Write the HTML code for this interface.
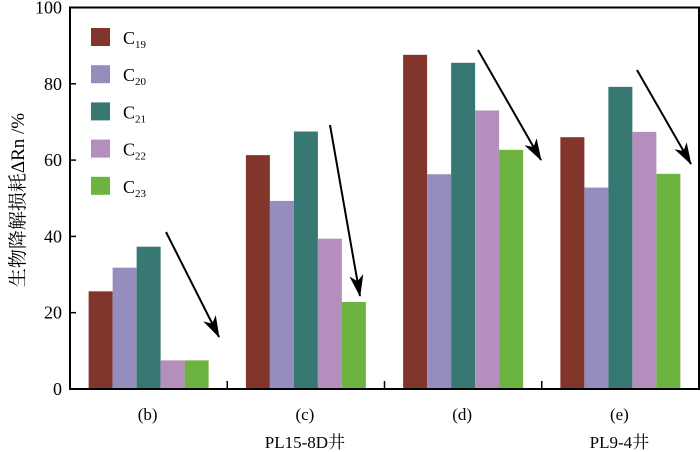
<!DOCTYPE html>
<html><head><meta charset="utf-8"><style>
body{margin:0;background:#fff}
svg{display:block;font-family:"Liberation Serif","Noto Serif CJK SC",serif}
</style></head><body>
<svg id="chart" width="700" height="452"></svg>
<script>
const categories=["(b)","(c)","(d)","(e)"];
const seriesNames=["19","20","21","22","23"];
const c19=[25.6,61.3,87.6,66.0];
const c20=[31.8,49.3,56.3,52.8];
const c21=[37.3,67.5,85.5,79.2];
const c22=[7.5,39.4,73.0,67.4];
const c23=[7.5,22.8,62.7,56.4];
const yTicks=[0,20,40,60,80,100];
const wellLabels=[{text:"PL15-8D井",cat:1},{text:"PL9-4井",cat:3}];
const series=[c19,c20,c21,c22,c23];
const colors=["#82352B","#958DBE","#387873","#B48FBD","#6DB33F"];
const NS="http://www.w3.org/2000/svg";
const svg=document.getElementById("chart");
const L=70,R=699,T=7.5,B=389;
const y=v=>B-(v/100)*(B-T);
const bw=(R-L)/categories.length;
const x=i=>L+bw*(i+0.5);
const barW=24;
function mk(t,a,p){const e=document.createElementNS(NS,t);for(const k in a)e.setAttribute(k,a[k]);(p||svg).appendChild(e);return e;}
series.forEach((s,si)=>{s.forEach((v,ci)=>{
 const r=mk("rect",{x:x(ci)-2.5*barW+si*barW,y:y(v),width:barW,height:B-y(v),fill:colors[si]});
 
 
});});
const fr=mk("rect",{x:L,y:T,width:R-L,height:B-T,fill:"none",stroke:"#000","stroke-width":2});


yTicks.forEach(t=>{
 mk("line",{x1:L,x2:L+6,y1:y(t),y2:y(t),stroke:"#000","stroke-width":1.5});
 const tx=mk("text",{x:L-8,y:y(t)+6,"text-anchor":"end","font-size":18});
 tx.textContent=t;
 
 
});
categories.forEach((c,i)=>{
 if(i>0)mk("line",{x1:L+bw*i,x2:L+bw*i,y1:B,y2:B-8,stroke:"#000","stroke-width":1.5});
 const tx=mk("text",{x:x(i)-1,y:420,"text-anchor":"middle","font-size":17});
 tx.textContent=c;
 
 
});
wellLabels.forEach(w=>{
 const tx=mk("text",{x:x(w.cat)-1,y:448,"text-anchor":"middle","font-size":17});
 tx.textContent=w.text;
 
 
});
const yt=mk("text",{transform:"translate(24,200) rotate(-90)","text-anchor":"middle","font-size":19});
yt.textContent="生物降解损耗ΔRn /%";


seriesNames.forEach((n,i)=>{
 const yy=28+i*37.2;
 const sw=mk("rect",{x:91,y:yy,width:19,height:18,fill:colors[i]});
 
 
 const tx=mk("text",{x:123,y:yy+16,"font-size":18});
 tx.innerHTML='C<tspan font-size="11" dy="4">'+n+'</tspan>';
 
 
});
const defs=mk("defs",{});
const m=mk("marker",{id:"ah",markerWidth:22,markerHeight:14,refX:21,refY:7,orient:"auto",markerUnits:"userSpaceOnUse"},defs);
mk("path",{d:"M0,0 L22,7 L0,14 L6,7 Z",fill:"#000"},m);
const arrows=[[166,232,219,337],[330,125,360,296],[478,50,541,160],[637,70,691,164]];
arrows.forEach(a=>{
 const l=mk("line",{x1:a[0],y1:a[1],x2:a[2],y2:a[3],stroke:"#000","stroke-width":2,"marker-end":"url(#ah)"});
 
 
});
</script>
</body></html>
